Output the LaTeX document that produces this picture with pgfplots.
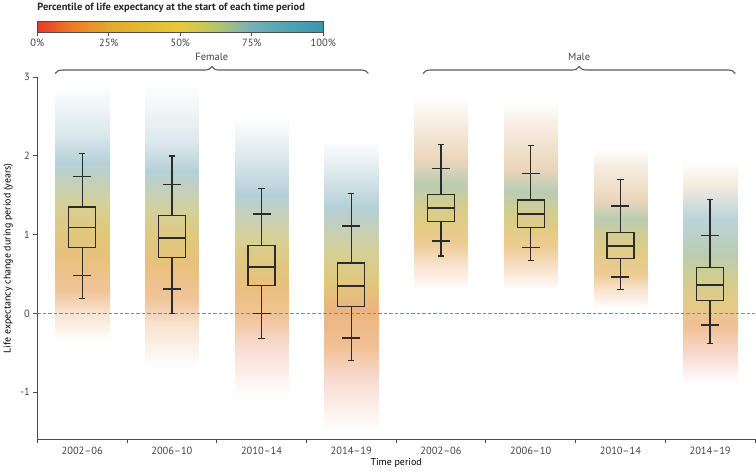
\documentclass[border=0pt]{standalone}
\usepackage{fontspec}
\setmainfont{PT Sans}
\usepackage{pgfplots}
\pgfplotsset{compat=1.18}
\usepgfplotslibrary{statistics}
\usetikzlibrary{decorations.pathreplacing}
\definecolor{boxc}{HTML}{2B2B2B}
\definecolor{zeroc}{HTML}{7F8C93}
\definecolor{txt}{HTML}{444444}
\definecolor{cR}{RGB}{228,104,62}
\definecolor{cO}{RGB}{228,140,58}
\definecolor{cOG}{RGB}{222,160,58}
\definecolor{cG}{RGB}{212,176,70}
\definecolor{cYG}{RGB}{190,184,100}
\definecolor{cGT}{RGB}{150,178,140}
\definecolor{cT}{RGB}{112,164,178}
\definecolor{cTB}{RGB}{125,168,188}
\definecolor{cBE}{RGB}{212,165,108}
\pgfplotsset{
 colormap={lancet}{rgb255=(232,58,42); rgb255=(238,125,42); rgb255=(226,168,46); rgb255=(228,186,52); rgb255=(232,200,58); rgb255=(184,196,108); rgb255=(116,176,184); rgb255=(82,162,180); rgb255=(58,149,173)},
 colormap={g0}{color=(cR!0) color=(cO!24) color=(cO!52) color=(cOG!66) color=(cG!70) color=(cYG!66) color=(cT!52) color=(cT!24) color=(cTB!0)},
 colormap={g2}{color=(cR!0) color=(cR!24) color=(cO!52) color=(cOG!66) color=(cG!70) color=(cYG!64) color=(cT!52) color=(cT!24) color=(cTB!0)},
 colormap={g3}{color=(cR!0) color=(cR!26) color=(cO!55) color=(cO!66) color=(cG!70) color=(cYG!66) color=(cT!52) color=(cT!24) color=(cTB!0)},
 colormap={g4}{color=(cO!0) color=(cO!24) color=(cOG!55) color=(cG!66) color=(cYG!70) color=(cGT!66) color=(cBE!46) color=(cBE!22) color=(cBE!0)},
 colormap={g7}{color=(cR!0) color=(cR!26) color=(cO!55) color=(cG!66) color=(cYG!70) color=(cGT!66) color=(cT!48) color=(cBE!22) color=(cBE!0)},
 cloud/.style={patch, patch type=rectangle, shader=interp, point meta=explicit},
}
\newcommand{\fs}{\fontsize{10.5}{12}\selectfont}
\begin{document}
\begin{tikzpicture}
\begin{axis}[
 at={(0,0)}, anchor=south west,
 scale only axis, width=717.7bp, height=362bp,
 xmin=-0.5, xmax=7.5, ymin=-1.6, ymax=3,
 axis x line*=bottom, axis y line*=left,
 axis line style={draw=black!70, line width=1bp},
 xtick={-0.5,0.5,1.5,2.5,3.5,4.5,5.5,6.5,7.5},
 x tick label as interval,
 xticklabels={2002–06,2006–10,2010–14,2014–19,2002–06,2006–10,2010–14,2014–19},
 ytick={-1,0,1,2,3}, yticklabels={-1,0,1,2,3},
 tick align=outside, major tick length=4bp,
 tick style={draw=black!70, line width=1bp},
 tick label style={font=\fs, text=txt},
 xlabel={Time period}, ylabel={Life expectancy change during period (years)},
 label style={font=\fs, text=txt},
 every axis x label/.style={at={(axis description cs:0.5,0)}, anchor=center, yshift=-23.7bp},
 every axis y label/.style={at={(axis description cs:0,0.5)}, anchor=center, xshift=-29bp, rotate=90},
 clip=false,
 colormap name=lancet,
 point meta min=0, point meta max=1,
 colorbar horizontal,
 colorbar style={
   at={(0bp,415.3bp)}, anchor=south west,
   scale only axis, width=286bp, height=10.7bp,
   xtick={0,0.25,0.5,0.75,1}, xticklabels={0\%,25\%,50\%,75\%,100\%},
   xtick pos=left, xticklabel pos=left,
   tick align=outside, major tick length=3.5bp,
   tick style={draw=black!70, line width=0.8bp},
   tick label style={font=\fs, text=txt},
   axis line style={draw=black!70, line width=0.8bp},
   title={Percentile of life expectancy at the start of each time period},
   title style={at={(0,1)}, anchor=south west, inner sep=0pt, yshift=3bp, font=\bfseries\fs, text=black!85},
 },
 boxplot/draw direction=y,
]
% clouds: one smooth band per period, levels
\addplot[cloud, colormap name=g0] coordinates {
(-0.3,-0.35)[0] (0.3,-0.35)[0] (0.3,0)[0.125] (-0.3,0)[0.125]
(-0.3,0)[0.125] (0.3,0)[0.125] (0.3,0.3)[0.25] (-0.3,0.3)[0.25]
(-0.3,0.3)[0.25] (0.3,0.3)[0.25] (0.3,0.7)[0.375] (-0.3,0.7)[0.375]
(-0.3,0.7)[0.375] (0.3,0.7)[0.375] (0.3,1.05)[0.5] (-0.3,1.05)[0.5]
(-0.3,1.05)[0.5] (0.3,1.05)[0.5] (0.3,1.4)[0.625] (-0.3,1.4)[0.625]
(-0.3,1.4)[0.625] (0.3,1.4)[0.625] (0.3,1.9)[0.75] (-0.3,1.9)[0.75]
(-0.3,1.9)[0.75] (0.3,1.9)[0.75] (0.3,2.3)[0.875] (-0.3,2.3)[0.875]
(-0.3,2.3)[0.875] (0.3,2.3)[0.875] (0.3,2.9)[1] (-0.3,2.9)[1]
};
\addplot[cloud, colormap name=g0] coordinates {
(0.7,-0.7)[0] (1.3,-0.7)[0] (1.3,-0.15)[0.125] (0.7,-0.15)[0.125]
(0.7,-0.15)[0.125] (1.3,-0.15)[0.125] (1.3,0.2)[0.25] (0.7,0.2)[0.25]
(0.7,0.2)[0.25] (1.3,0.2)[0.25] (1.3,0.6)[0.375] (0.7,0.6)[0.375]
(0.7,0.6)[0.375] (1.3,0.6)[0.375] (1.3,0.95)[0.5] (0.7,0.95)[0.5]
(0.7,0.95)[0.5] (1.3,0.95)[0.5] (1.3,1.3)[0.625] (0.7,1.3)[0.625]
(0.7,1.3)[0.625] (1.3,1.3)[0.625] (1.3,1.8)[0.75] (0.7,1.8)[0.75]
(0.7,1.8)[0.75] (1.3,1.8)[0.75] (1.3,2.2)[0.875] (0.7,2.2)[0.875]
(0.7,2.2)[0.875] (1.3,2.2)[0.875] (1.3,2.9)[1] (0.7,2.9)[1]
};
\addplot[cloud, colormap name=g2] coordinates {
(1.7,-1.05)[0] (2.3,-1.05)[0] (2.3,-0.4)[0.125] (1.7,-0.4)[0.125]
(1.7,-0.4)[0.125] (2.3,-0.4)[0.125] (2.3,-0.05)[0.25] (1.7,-0.05)[0.25]
(1.7,-0.05)[0.25] (2.3,-0.05)[0.25] (2.3,0.35)[0.375] (1.7,0.35)[0.375]
(1.7,0.35)[0.375] (2.3,0.35)[0.375] (2.3,0.65)[0.5] (1.7,0.65)[0.5]
(1.7,0.65)[0.5] (2.3,0.65)[0.5] (2.3,1.0)[0.625] (1.7,1.0)[0.625]
(1.7,1.0)[0.625] (2.3,1.0)[0.625] (2.3,1.5)[0.75] (1.7,1.5)[0.75]
(1.7,1.5)[0.75] (2.3,1.5)[0.75] (2.3,2.0)[0.875] (1.7,2.0)[0.875]
(1.7,2.0)[0.875] (2.3,2.0)[0.875] (2.3,2.5)[1] (1.7,2.5)[1]
};
\addplot[cloud, colormap name=g3] coordinates {
(2.7,-1.5)[0] (3.3,-1.5)[0] (3.3,-0.8)[0.125] (2.7,-0.8)[0.125]
(2.7,-0.8)[0.125] (3.3,-0.8)[0.125] (3.3,-0.4)[0.25] (2.7,-0.4)[0.25]
(2.7,-0.4)[0.25] (3.3,-0.4)[0.25] (3.3,0.05)[0.375] (2.7,0.05)[0.375]
(2.7,0.05)[0.375] (3.3,0.05)[0.375] (3.3,0.4)[0.5] (2.7,0.4)[0.5]
(2.7,0.4)[0.5] (3.3,0.4)[0.5] (3.3,0.8)[0.625] (2.7,0.8)[0.625]
(2.7,0.8)[0.625] (3.3,0.8)[0.625] (3.3,1.35)[0.75] (2.7,1.35)[0.75]
(2.7,1.35)[0.75] (3.3,1.35)[0.75] (3.3,1.8)[0.875] (2.7,1.8)[0.875]
(2.7,1.8)[0.875] (3.3,1.8)[0.875] (3.3,2.2)[1] (2.7,2.2)[1]
};
\addplot[cloud, colormap name=g4] coordinates {
(3.7,0.3)[0] (4.3,0.3)[0] (4.3,0.6)[0.125] (3.7,0.6)[0.125]
(3.7,0.6)[0.125] (4.3,0.6)[0.125] (4.3,0.9)[0.25] (3.7,0.9)[0.25]
(3.7,0.9)[0.25] (4.3,0.9)[0.25] (4.3,1.15)[0.375] (3.7,1.15)[0.375]
(3.7,1.15)[0.375] (4.3,1.15)[0.375] (4.3,1.4)[0.5] (3.7,1.4)[0.5]
(3.7,1.4)[0.5] (4.3,1.4)[0.5] (4.3,1.65)[0.625] (3.7,1.65)[0.625]
(3.7,1.65)[0.625] (4.3,1.65)[0.625] (4.3,1.95)[0.75] (3.7,1.95)[0.75]
(3.7,1.95)[0.75] (4.3,1.95)[0.75] (4.3,2.4)[0.875] (3.7,2.4)[0.875]
(3.7,2.4)[0.875] (4.3,2.4)[0.875] (4.3,2.75)[1] (3.7,2.75)[1]
};
\addplot[cloud, colormap name=g4] coordinates {
(4.7,0.3)[0] (5.3,0.3)[0] (5.3,0.55)[0.125] (4.7,0.55)[0.125]
(4.7,0.55)[0.125] (5.3,0.55)[0.125] (5.3,0.85)[0.25] (4.7,0.85)[0.25]
(4.7,0.85)[0.25] (5.3,0.85)[0.25] (5.3,1.1)[0.375] (4.7,1.1)[0.375]
(4.7,1.1)[0.375] (5.3,1.1)[0.375] (5.3,1.3)[0.5] (4.7,1.3)[0.5]
(4.7,1.3)[0.5] (5.3,1.3)[0.5] (5.3,1.55)[0.625] (4.7,1.55)[0.625]
(4.7,1.55)[0.625] (5.3,1.55)[0.625] (5.3,1.85)[0.75] (4.7,1.85)[0.75]
(4.7,1.85)[0.75] (5.3,1.85)[0.75] (5.3,2.35)[0.875] (4.7,2.35)[0.875]
(4.7,2.35)[0.875] (5.3,2.35)[0.875] (5.3,2.7)[1] (4.7,2.7)[1]
};
\addplot[cloud, colormap name=g4] coordinates {
(5.7,0.05)[0] (6.3,0.05)[0] (6.3,0.3)[0.125] (5.7,0.3)[0.125]
(5.7,0.3)[0.125] (6.3,0.3)[0.125] (6.3,0.5)[0.25] (5.7,0.5)[0.25]
(5.7,0.5)[0.25] (6.3,0.5)[0.25] (6.3,0.75)[0.375] (5.7,0.75)[0.375]
(5.7,0.75)[0.375] (6.3,0.75)[0.375] (6.3,1.0)[0.5] (5.7,1.0)[0.5]
(5.7,1.0)[0.5] (6.3,1.0)[0.5] (6.3,1.2)[0.625] (5.7,1.2)[0.625]
(5.7,1.2)[0.625] (6.3,1.2)[0.625] (6.3,1.45)[0.75] (5.7,1.45)[0.75]
(5.7,1.45)[0.75] (6.3,1.45)[0.75] (6.3,1.85)[0.875] (5.7,1.85)[0.875]
(5.7,1.85)[0.875] (6.3,1.85)[0.875] (6.3,2.1)[1] (5.7,2.1)[1]
};
\addplot[cloud, colormap name=g7] coordinates {
(6.7,-0.9)[0] (7.3,-0.9)[0] (7.3,-0.5)[0.125] (6.7,-0.5)[0.125]
(6.7,-0.5)[0.125] (7.3,-0.5)[0.125] (7.3,-0.15)[0.25] (6.7,-0.15)[0.25]
(6.7,-0.15)[0.25] (7.3,-0.15)[0.25] (7.3,0.15)[0.375] (6.7,0.15)[0.375]
(6.7,0.15)[0.375] (7.3,0.15)[0.375] (7.3,0.45)[0.5] (6.7,0.45)[0.5]
(6.7,0.45)[0.5] (7.3,0.45)[0.5] (7.3,0.75)[0.625] (6.7,0.75)[0.625]
(6.7,0.75)[0.625] (7.3,0.75)[0.625] (7.3,1.2)[0.75] (6.7,1.2)[0.75]
(6.7,1.2)[0.75] (7.3,1.2)[0.75] (7.3,1.65)[0.875] (6.7,1.65)[0.875]
(6.7,1.65)[0.875] (7.3,1.65)[0.875] (7.3,1.95)[1] (6.7,1.95)[1]
};
% zero line
\addplot[draw=zeroc, line width=1.2bp, dash pattern=on 3.5bp off 2bp] coordinates {(-0.5,0) (7.5,0)};
% boxplots
\pgfplotsset{bx/.style={draw=boxc, line width=1.3bp, solid, boxplot/box extend=0.3, boxplot/whisker extend=0.07, boxplot/every median/.style={line width=1.7bp}}}
\addplot[bx, boxplot prepared={draw position=0, lower whisker=0.19, lower quartile=0.84, median=1.09, upper quartile=1.35, upper whisker=2.03}] coordinates {};
\addplot[bx, boxplot prepared={draw position=1, lower whisker=0.0, lower quartile=0.71, median=0.96, upper quartile=1.24, upper whisker=2.00}] coordinates {};
\addplot[bx, boxplot prepared={draw position=2, lower whisker=-0.32, lower quartile=0.35, median=0.59, upper quartile=0.86, upper whisker=1.59}] coordinates {};
\addplot[bx, boxplot prepared={draw position=3, lower whisker=-0.60, lower quartile=0.09, median=0.35, upper quartile=0.64, upper whisker=1.52}] coordinates {};
\addplot[bx, boxplot prepared={draw position=4, lower whisker=0.73, lower quartile=1.17, median=1.34, upper quartile=1.51, upper whisker=2.15}] coordinates {};
\addplot[bx, boxplot prepared={draw position=5, lower whisker=0.67, lower quartile=1.09, median=1.26, upper quartile=1.44, upper whisker=2.13}] coordinates {};
\addplot[bx, boxplot prepared={draw position=6, lower whisker=0.30, lower quartile=0.70, median=0.86, upper quartile=1.03, upper whisker=1.70}] coordinates {};
\addplot[bx, boxplot prepared={draw position=7, lower whisker=-0.38, lower quartile=0.16, median=0.36, upper quartile=0.58, upper whisker=1.45}] coordinates {};
% wide percentile ticks
\addplot[only marks, mark=-, mark size=9bp, mark options={draw=boxc, line width=1.5bp}] coordinates {
(0,0.48) (0,1.74) (1,0.31) (1,1.64) (2,0.0) (2,1.26) (3,-0.31) (3,1.11)
(4,0.92) (4,1.84) (5,0.84) (5,1.78) (6,0.46) (6,1.365) (7,-0.15) (7,0.99)};
% braces
\draw[decorate, decoration={brace, amplitude=7bp}, draw=black!65, line width=1.1bp] (axis cs:-0.3,3.048) -- (axis cs:3.19,3.048);
\draw[decorate, decoration={brace, amplitude=7bp}, draw=black!65, line width=1.1bp] (axis cs:3.8,3.048) -- (axis cs:7.28,3.048);
\node[font=\fs, text=txt] at (axis cs:1.445,3.258) {Female};
\node[font=\fs, text=txt] at (axis cs:5.54,3.258) {Male};
\end{axis}
\pgfresetboundingbox
\useasboundingbox (-37.3bp,-34.7bp) rectangle (718.7bp,439.3bp);
\end{tikzpicture}
\end{document}
